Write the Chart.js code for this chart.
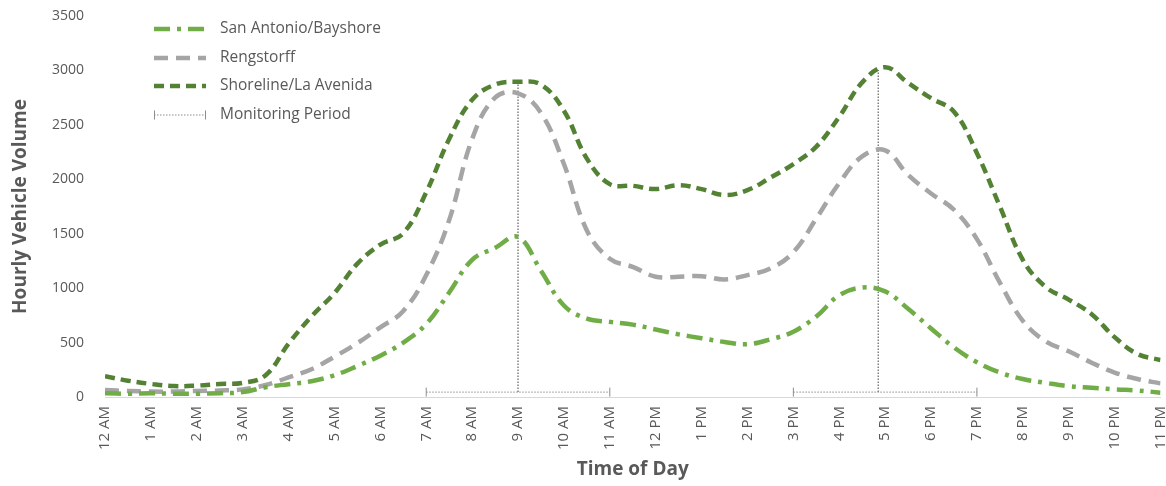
<!DOCTYPE html>
<html>
<head>
<meta charset="utf-8">
<script src="https://cdn.jsdelivr.net/npm/chart.js@4"></script>
<style>
  html, body { margin: 0; padding: 0; background: #fff; }
</style>
</head>
<body>
<canvas id="myChart" width="1166" height="486"></canvas>
<script>
// hour labels on the x axis
var hourLabels = ['12 AM', '1 AM', '2 AM', '3 AM', '4 AM', '5 AM', '6 AM', '7 AM', '8 AM', '9 AM', '10 AM', '11 AM',
  '12 PM', '1 PM', '2 PM', '3 PM', '4 PM', '5 PM', '6 PM', '7 PM', '8 PM', '9 PM', '10 PM', '11 PM']

// half-hour sample times (hours after midnight)
var times = [0, 0.5, 1, 1.5, 2, 2.5, 3, 3.5, 4, 4.5, 5, 5.5, 6, 6.5, 7, 7.5, 8, 8.5, 9, 9.5, 10, 10.5, 11, 11.5,
  12, 12.5, 13, 13.5, 14, 14.5, 15, 15.5, 16, 16.5, 17, 17.5, 18, 18.5, 19, 19.5, 20, 20.5, 21, 21.5, 22, 22.5, 23]

var sanAntonio = [35, 30, 35, 30, 30, 35, 45, 90, 118, 145, 200, 285, 380, 500, 670, 960, 1260, 1370, 1470, 1160, 840, 720, 690, 665,
  620, 575, 540, 505, 485, 530, 600, 740, 935, 1005, 970, 810, 630, 455, 320, 225, 165, 130, 100, 85, 70, 60, 40]

var rengstorff = [65, 55, 50, 50, 55, 60, 70, 110, 180, 255, 370, 495, 640, 790, 1120, 1625, 2370, 2750, 2790, 2610, 2140, 1530, 1270, 1195,
  1105, 1105, 1110, 1080, 1120, 1180, 1330, 1640, 1965, 2210, 2265, 2040, 1870, 1720, 1450, 1050, 700, 510, 420, 315, 225, 165, 125]

var shoreline = [190, 150, 120, 100, 105, 120, 130, 200, 490, 740, 955, 1225, 1400, 1505, 1880, 2370, 2730, 2870, 2895, 2870, 2630, 2190, 1955, 1940,
  1910, 1945, 1910, 1855, 1900, 2015, 2140, 2300, 2575, 2890, 3030, 2885, 2745, 2620, 2240, 1750, 1260, 1010, 895, 760, 550, 395, 340]

// monitoring periods and peak markers
var monitorStart = [7, 15]
var monitorEnd = [11, 19]
var monitorLevel = 45
var peakTimes = [9, 16.85]
var peakValues = [2895, 3005]

var textGray = '#595959'
Chart.defaults.font.family = "'Open Sans', sans-serif"
Chart.defaults.color = textGray

function points (values) {
  return times.map(function (t, i) { return { x: t, y: values[i] } })
}

var monitorPoints = []
monitorStart.forEach(function (s, i) {
  if (i > 0) monitorPoints.push({ x: (monitorEnd[i - 1] + s) / 2, y: null })
  monitorPoints.push({ x: s, y: monitorLevel }, { x: monitorEnd[i], y: monitorLevel })
})

var curve = { pointRadius: 0, borderWidth: 4.5, tension: 0.4, fill: false, borderCapStyle: 'butt' }

var datasets = [
  Object.assign({ label: 'San Antonio/Bayshore', data: points(sanAntonio), borderColor: '#70AD47', borderDash: [16, 7, 4, 7], order: 1 }, curve),
  Object.assign({ label: 'Rengstorff', data: points(rengstorff), borderColor: '#A5A5A5', borderDash: [14, 8], order: 2 }, curve),
  Object.assign({ label: 'Shoreline/La Avenida', data: points(shoreline), borderColor: '#548235', borderDash: [10, 6], order: 3 }, curve),
  {
    label: 'Monitoring Period',
    data: monitorPoints,
    borderColor: '#8C8C8C',
    borderWidth: 1,
    borderDash: [1.5, 1.5],
    spanGaps: false,
    tension: 0,
    pointStyle: 'line',
    pointRotation: 90,
    pointRadius: 4.5,
    pointBorderWidth: 1,
    pointBorderColor: '#8C8C8C',
    order: 4
  }
]

peakTimes.forEach(function (t, i) {
  datasets.push({
    label: 'peak' + i,
    data: [{ x: t, y: monitorLevel }, { x: t, y: peakValues[i] }],
    borderColor: '#7F7F7F',
    borderWidth: 1.5,
    borderDash: [1.5, 1.5],
    pointRadius: 0,
    tension: 0,
    order: 5
  })
})

// legend drawn by hand so the dash patterns show like the original
var manualLegend = {
  id: 'manualLegend',
  afterDraw: function (chart) {
    var ctx = chart.ctx
    var rows = [29, 58, 86, 115]
    chart.data.datasets.slice(0, 4).forEach(function (ds, i) {
      var y = rows[i]
      ctx.save()
      ctx.strokeStyle = ds.borderColor
      ctx.lineWidth = ds.borderWidth
      ctx.setLineDash(ds.borderDash || [])
      ctx.beginPath()
      ctx.moveTo(154, y)
      ctx.lineTo(206, y)
      ctx.stroke()
      if (ds.pointStyle === 'line') {
        ctx.setLineDash([])
        ctx.beginPath()
        ctx.moveTo(154.5, y - 4.5); ctx.lineTo(154.5, y + 4.5)
        ctx.moveTo(205.5, y - 4.5); ctx.lineTo(205.5, y + 4.5)
        ctx.stroke()
      }
      ctx.fillStyle = textGray
      ctx.font = "15.5px 'Open Sans', sans-serif"
      ctx.textBaseline = 'middle'
      ctx.fillText(ds.label, 220, y)
      ctx.restore()
    })
  }
}

var ctx = document.getElementById('myChart')
var myChart = new Chart(ctx, {
  type: 'line',
  data: { datasets: datasets },
  plugins: [manualLegend],
  options: {
    responsive: false,
    animation: false,
    events: [],
    layout: { padding: { left: 0, right: 4, top: 16, bottom: 0 } },
    plugins: {
      legend: { display: false },
      tooltip: { enabled: false }
    },
    scales: {
      x: {
        type: 'linear',
        min: 0,
        max: 23,
        grid: { display: false, drawTicks: false },
        border: { display: true, color: '#D9D9D9', width: 1 },
        ticks: {
          stepSize: 1,
          autoSkip: false,
          minRotation: 90,
          maxRotation: 90,
          padding: 9,
          font: { size: 15 },
          callback: function (v) { return hourLabels[v] }
        },
        title: {
          display: true,
          text: 'Time of Day',
          font: { size: 19, weight: 'bold' },
          padding: { top: 0, bottom: 5 }
        },
        afterFit: function (scale) {
          scale.height = 89
          scale.paddingLeft = 0
          scale.paddingRight = 0
        }
      },
      y: {
        min: 0,
        max: 3500,
        grid: { display: false, drawTicks: false },
        border: { display: false },
        ticks: {
          stepSize: 500,
          padding: 21,
          font: { size: 14 },
          callback: function (v) { return String(v) }
        },
        title: {
          display: true,
          text: 'Hourly Vehicle Volume',
          font: { size: 19, weight: 'bold' },
          padding: { top: 9, bottom: 0 }
        },
        afterFit: function (scale) {
          scale.width = 105
          scale.paddingTop = 0
          scale.paddingBottom = 0
        }
      }
    }
  }
})
</script>
</body>
</html>
